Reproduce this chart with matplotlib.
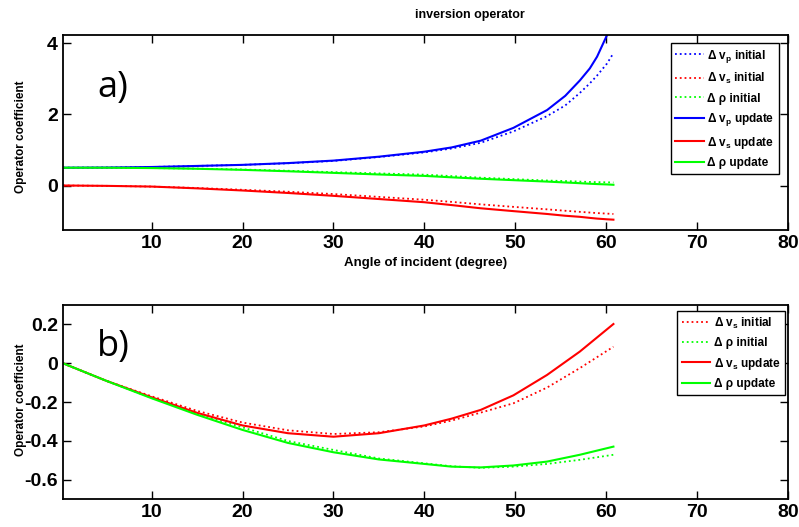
import numpy as np
import matplotlib
matplotlib.use('Agg')
import matplotlib.pyplot as plt

plt.rcParams['font.family'] = ['Liberation Sans', 'DejaVu Sans']
plt.rcParams['mathtext.fontset'] = 'custom'
plt.rcParams['mathtext.rm'] = 'Liberation Sans:bold'
plt.rcParams['mathtext.bf'] = 'Liberation Sans:bold'

# panel a) angle of incidence (degree)
angle_a = [0.25, 5, 10, 15, 20, 25, 30, 35, 40, 43, 46.2, 49.8, 53.5, 55.5, 57.1, 58.2, 59, 60.1, 60.8]
vp_init = [0.5, 0.505, 0.52, 0.55, 0.58, 0.625, 0.69, 0.80, 0.93, 1.04, 1.20, 1.52, 1.95, 2.25, 2.6, 2.87, 3.09, 3.43, 3.72]
vp_upd = [0.5, 0.505, 0.52, 0.55, 0.58, 0.63, 0.70, 0.81, 0.95, 1.07, 1.26, 1.62, 2.12, 2.52, 2.95, 3.29, 3.62, 4.23, 4.8]
vs_init = [0.0, -0.01, -0.03, -0.07, -0.12, -0.175, -0.24, -0.32, -0.40, -0.46, -0.53, -0.60, -0.67, -0.71, -0.74, -0.76, -0.775, -0.79, -0.80]
vs_upd = [0.0, -0.01, -0.03, -0.08, -0.14, -0.21, -0.29, -0.38, -0.47, -0.55, -0.64, -0.72, -0.80, -0.85, -0.88, -0.91, -0.93, -0.95, -0.96]
rho_init = [0.5, 0.5, 0.49, 0.475, 0.45, 0.415, 0.375, 0.34, 0.305, 0.265, 0.22, 0.18, 0.14, 0.125, 0.11, 0.10, 0.095, 0.09, 0.085]
rho_upd = [0.5, 0.5, 0.49, 0.47, 0.44, 0.40, 0.355, 0.31, 0.27, 0.23, 0.19, 0.15, 0.11, 0.085, 0.065, 0.05, 0.04, 0.03, 0.02]

# panel b)
angle_b = [0.25, 5, 10, 15, 20, 25, 30, 35, 40, 43, 46.2, 49.8, 53.5, 57.1, 60.8]
vs_init_b = [0.0, -0.09, -0.17, -0.245, -0.305, -0.345, -0.364, -0.355, -0.325, -0.295, -0.254, -0.206, -0.125, -0.025, 0.085]
vs_upd_b = [0.0, -0.09, -0.175, -0.255, -0.32, -0.36, -0.378, -0.36, -0.32, -0.285, -0.24, -0.165, -0.06, 0.06, 0.202]
rho_init_b = [0.0, -0.09, -0.178, -0.26, -0.33, -0.40, -0.446, -0.49, -0.515, -0.53, -0.538, -0.532, -0.518, -0.497, -0.471]
rho_upd_b = [0.0, -0.09, -0.18, -0.265, -0.343, -0.41, -0.458, -0.495, -0.518, -0.532, -0.536, -0.526, -0.506, -0.471, -0.429]

xticks = [10, 20, 30, 40, 50, 60, 70, 80]

lab_vp_i = r'$\Delta$ v$_\mathrm{p}$ initial'
lab_vs_i = r'$\Delta$ v$_\mathrm{s}$ initial'
lab_rho_i = 'Δ ρ initial'
lab_vp_u = r'$\Delta$ v$_\mathrm{p}$ update'
lab_vs_u = r'$\Delta$ v$_\mathrm{s}$ update'
lab_rho_u = 'Δ ρ update'

fig = plt.figure(figsize=(7.99, 5.27), dpi=100)
ax1 = fig.add_axes([0.0788, 0.5636, 0.9074, 0.370])
ax2 = fig.add_axes([0.0788, 0.0526, 0.9074, 0.3687])


def style(ax, ylab_y):
    ax.tick_params(direction='in', top=True, right=True, length=5.5, width=1,
                   labelsize=14)
    for lab in ax.get_xticklabels() + ax.get_yticklabels():
        lab.set_fontweight('bold')
    for s in ax.spines.values():
        s.set_linewidth(1.3)
    ax.set_ylabel('Operator coefficient', fontsize=8.5, fontweight='bold')
    ax.yaxis.set_label_coords(-0.049, ylab_y)


ax1.plot(angle_a, vp_init, ':', color='b', lw=1.3, label=lab_vp_i)
ax1.plot(angle_a, vs_init, ':', color='r', lw=1.3, label=lab_vs_i)
ax1.plot(angle_a, rho_init, ':', color=(0, 1, 0), lw=1.3, label=lab_rho_i)
ax1.plot(angle_a, vp_upd, '-', color='b', lw=1.5, label=lab_vp_u)
ax1.plot(angle_a, vs_upd, '-', color='r', lw=1.5, label=lab_vs_u)
ax1.plot(angle_a, rho_upd, '-', color=(0, 1, 0), lw=1.5, label=lab_rho_u)
ax1.set_xlim(0.25, 80)
ax1.set_ylim(-1.25, 4.23)
ax1.set_xticks(xticks)
ax1.set_yticks([0, 2, 4])
style(ax1, 0.477)
ax1.set_xlabel('Angle of incident (degree)', fontsize=9.5, fontweight='bold', labelpad=4)
leg1 = ax1.legend(loc='upper right', bbox_to_anchor=(0.988, 0.96), borderaxespad=0,
                  fancybox=False, edgecolor='black', framealpha=1, handlelength=2.4,
                  labelspacing=0.55, handletextpad=0.3,
                  prop={'weight': 'bold', 'size': 8.5})
leg1.get_frame().set_linewidth(1.0)
ax1.text(0.047, 0.73, 'a)', transform=ax1.transAxes, fontsize=26,
         family='Open Sans', va='center', ha='left')

ax2.plot(angle_b, vs_init_b, ':', color='r', lw=1.3, label=lab_vs_i)
ax2.plot(angle_b, rho_init_b, ':', color=(0, 1, 0), lw=1.3, label=lab_rho_i)
ax2.plot(angle_b, vs_upd_b, '-', color='r', lw=1.5, label=lab_vs_u)
ax2.plot(angle_b, rho_upd_b, '-', color=(0, 1, 0), lw=1.5, label=lab_rho_u)
ax2.set_xlim(0.25, 80)
ax2.set_ylim(-0.7, 0.3)
ax2.set_xticks(xticks)
ax2.set_yticks([-0.6, -0.4, -0.2, 0, 0.2])
ax2.set_yticklabels(['-0.6', '-0.4', '-0.2', '0', '0.2'])
style(ax2, 0.51)
leg2 = ax2.legend(loc='upper right', bbox_to_anchor=(0.996, 0.97), borderaxespad=0,
                  fancybox=False, edgecolor='black', framealpha=1, handlelength=2.4,
                  labelspacing=0.55, handletextpad=0.3,
                  prop={'weight': 'bold', 'size': 8.5})
leg2.get_frame().set_linewidth(1.0)
ax2.text(0.047, 0.785, 'b)', transform=ax2.transAxes, fontsize=26,
         family='Open Sans', va='center', ha='left')

fig.text(470 / 799, 1 - 15 / 527, 'inversion operator', ha='center', va='center',
         fontsize=9, fontweight='bold')

fig.savefig('out.png', dpi=100)
